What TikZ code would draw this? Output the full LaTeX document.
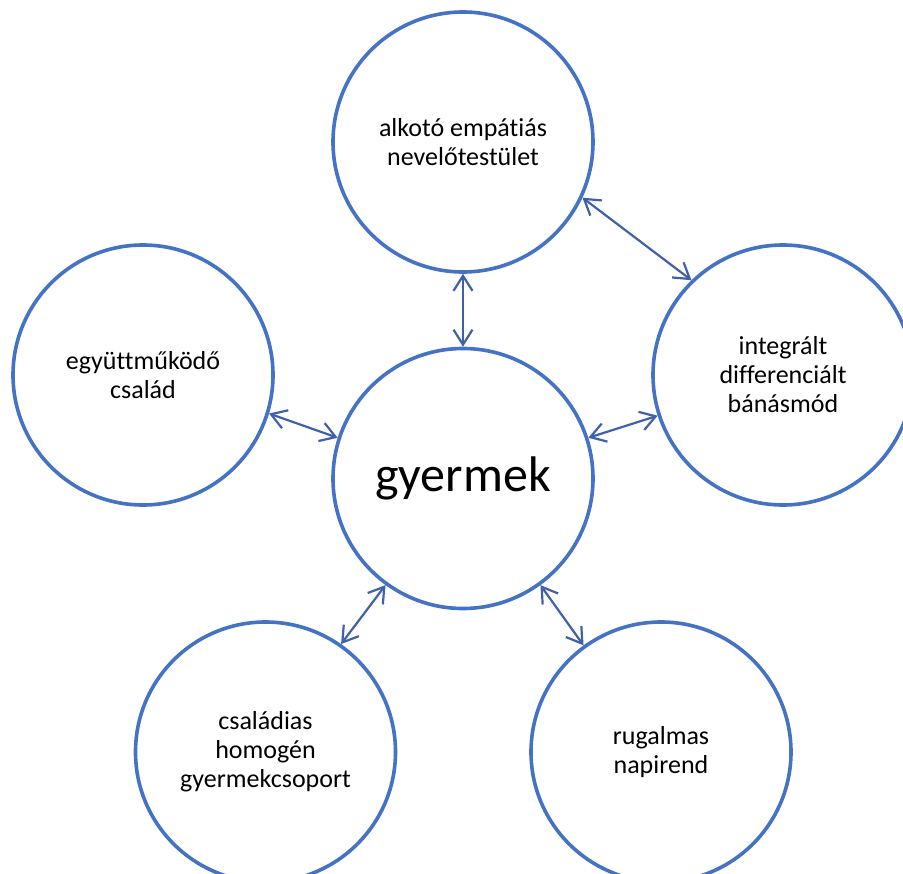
\documentclass[tikz,border=0pt]{standalone}
\usepackage{fontspec}
\setmainfont{Carlito}[Ligatures=CommonOff]
\usetikzlibrary{arrows.meta}
\definecolor{circblue}{HTML}{4472C4}
\definecolor{arrblue}{HTML}{3F60AA}
\begin{document}
\begin{tikzpicture}[x=1pt,y=-1pt,
  bubble/.style={circle,draw=circblue,line width=3.6pt,minimum size=260pt,inner sep=0pt,
    align=center,font=\fontsize{26}{29}\selectfont,text=black},
  link/.style={draw=arrblue,line width=2.2pt,
    {Straight Barb[length=15pt,width=19pt]}-{Straight Barb[length=15pt,width=19pt]}}]
\useasboundingbox (0,0) rectangle (903,874);
\node[bubble,font=\fontsize{50}{60}\selectfont] (c) at (463,478.5) {gyermek};
\node[bubble] (t) at (463,142) {alkotó empátiás\\nevelőtestület};
\node[bubble] (l) at (143,375) {együttműködő\\család};
\node[bubble] (r) at (783,375) {integrált\\differenciált\\bánásmód};
\node[bubble] (bl) at (265.5,752) {családias\\homogén\\gyermekcsoport};
\node[bubble] (br) at (661,752) {rugalmas\\napirend};
\draw[link] (t.south) -- (c.north);
\draw[link] (t.-25) -- (r.134);
\draw[link] (l.-17) -- (c.162);
\draw[link] (c.18) -- (r.-162);
\draw[link] (c.-126) -- (bl.55);
\draw[link] (c.-54) -- (br.126);
\end{tikzpicture}
\end{document}
